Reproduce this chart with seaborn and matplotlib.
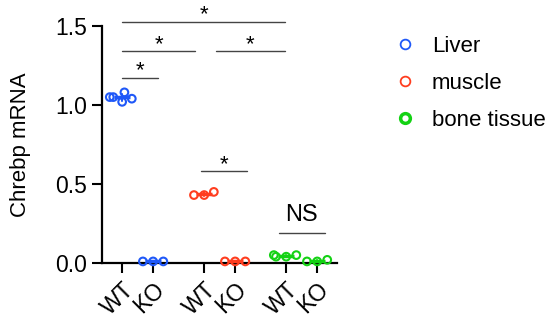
import matplotlib
matplotlib.use("Agg")
import matplotlib.pyplot as plt
from matplotlib.lines import Line2D
import seaborn as sns
import numpy as np
import pandas as pd

# data
tissues = ["Liver", "muscle", "bone tissue"]
genotypes = ["WT", "KO"]
liver_wt = [1.08, 1.02, 1.05, 1.05, 1.04]
liver_ko = [0.01, 0.01, 0.01]
muscle_wt = [0.43, 0.45, 0.43]
muscle_ko = [0.01, 0.01, 0.01]
bone_wt = [0.05, 0.04, 0.05, 0.04]
bone_ko = [0.01, 0.01, 0.02]
tick_labels = ["WT", "KO", "WT", "KO", "WT", "KO"]

# comparisons: (x start, x end, line height, label)
brackets = [
    (0.0, 1.16, 1.17, "*"),
    (0.0, 2.35, 1.34, "*"),
    (3.03, 5.26, 1.34, "*"),
    (0.0, 5.26, 1.525, "*"),
    (2.55, 4.03, 0.58, "*"),
    (5.06, 6.55, 0.19, "NS"),
]

# layout
positions = [0, 1, 2.65, 3.65, 5.3, 6.3]
colors = {"Liver": "#1f58f8", "muscle": "#ff3d1f", "bone tissue": "#14d214"}

groups = [liver_wt, liver_ko, muscle_wt, muscle_ko, bone_wt, bone_ko]
rows = []
for i, vals in enumerate(groups):
    for v in vals:
        rows.append({"pos": positions[i], "value": v,
                     "tissue": tissues[i // 2], "genotype": genotypes[i % 2]})
df = pd.DataFrame(rows)

sns.set_style("ticks")
plt.rcParams["font.family"] = ["Liberation Sans", "DejaVu Sans"]
plt.rcParams["text.color"] = "black"
plt.rcParams["axes.labelcolor"] = "black"
plt.rcParams["xtick.color"] = "black"
plt.rcParams["ytick.color"] = "black"
plt.rcParams["axes.edgecolor"] = "black"

fig = plt.figure(figsize=(5.5, 3.27), dpi=100)
ax = fig.add_axes([0.1855, 0.1957, 0.4272, 0.7248])

sns.pointplot(data=df, x="pos", y="value", hue="tissue", native_scale=True,
              palette=colors, markers="_", markersize=12, markeredgewidth=2.5,
              linestyle="none", errorbar="sd", err_kws={"linewidth": 1.5},
              legend=False, ax=ax)
sns.swarmplot(data=df, x="pos", y="value", hue="tissue", native_scale=True,
              palette=colors, size=5.5, linewidth=1.5, legend=False, ax=ax)

for coll in ax.collections:
    fc = coll.get_facecolors()
    if len(fc):
        coll.set_edgecolors(fc)
        coll.set_facecolors("none")
    coll.set_clip_on(False)
    coll.set_zorder(5)
for ln in ax.lines:
    ln.set_clip_on(False)
    ln.set_zorder(4)

ax.set_xlim(-0.65, 6.94)
ax.set_ylim(0, 1.5)
ax.set_yticks([0, 0.5, 1.0, 1.5])
ax.set_yticklabels(["0.0", "0.5", "1.0", "1.5"])
ax.set_xticks(positions)
ax.set_xticklabels(tick_labels, rotation=45, ha="right", rotation_mode="anchor")
ax.set_xlabel("")
ax.set_ylabel("Chrebp mRNA", fontsize=16, labelpad=18)
ax.tick_params(axis="both", labelsize=16.5, width=1.5, length=7)
ax.tick_params(axis="x", pad=4)
for side in ["left", "bottom"]:
    ax.spines[side].set_linewidth(1.6)
sns.despine(ax=ax)

for x0, x1, y, lab in brackets:
    ax.plot([x0, x1], [y, y], color="#444444", lw=1, clip_on=False)
    if lab == "*":
        ax.text((x0 + x1) / 2, y + 0.01, lab, ha="center", va="baseline",
                fontsize=16, clip_on=False)
    else:
        ax.text((x0 + x1) / 2, y + 0.075, lab, ha="center", va="baseline",
                fontsize=17, clip_on=False)

handles = []
for t in tissues:
    handles.append(Line2D([], [], marker="o", linestyle="none", markersize=7,
                          markerfacecolor="none", markeredgecolor=colors[t],
                          markeredgewidth=2.5 if t == "bone tissue" else 1.3))
fig.legend(handles, tissues, loc="upper left", bbox_to_anchor=(0.716, 0.89),
           frameon=False, fontsize=16, handlelength=1, handletextpad=0.72,
           labelspacing=0.72, borderpad=0, borderaxespad=0)

fig.savefig("out.png", dpi=100)
